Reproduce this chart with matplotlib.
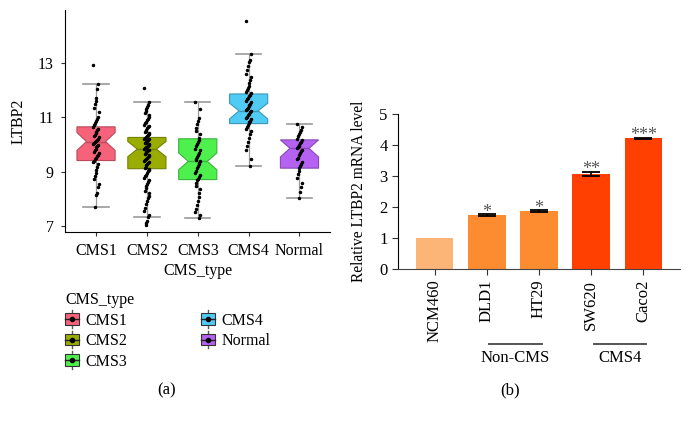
import matplotlib
matplotlib.use("Agg")
import matplotlib.pyplot as plt
import matplotlib.transforms as mtransforms
from matplotlib.legend_handler import HandlerBase
from matplotlib.lines import Line2D
from matplotlib.patches import Patch, Rectangle
import numpy as np

plt.rcParams['font.family'] = ['Liberation Serif', 'DejaVu Serif']

# ---- panel (a): LTBP2 expression by CMS type ----
groups = ["CMS1", "CMS2", "CMS3", "CMS4", "Normal"]
fill_colors = ["#F6627A", "#9AAC00", "#4DF04D", "#4FCBF4", "#B561F2"]
edge_colors = ["#B84A5C", "#738100", "#3AB43A", "#3B98B7", "#8849B5"]

q1 = [9.41, 9.11, 8.71, 10.77, 9.13]
med = [10.11, 9.83, 9.38, 11.24, 9.86]
q3 = [10.65, 10.26, 10.21, 11.86, 10.17]
whislo = [7.70, 7.34, 7.28, 9.22, 8.03]
whishi = [12.24, 11.57, 11.57, 13.33, 10.74]
notch_lo = [9.78, 9.55, 9.07, 10.94, 9.54]
notch_hi = [10.44, 10.11, 9.69, 11.52, 10.17]

cms1_pts = [12.93, 12.21, 12.05, 11.72, 11.61, 11.48, 11.33, 11.21, 11.02, 10.93,
            10.88, 10.79, 10.71, 10.66, 10.58, 10.52, 10.47, 10.41, 10.36, 10.33,
            10.28, 10.22, 10.18, 10.14, 10.11, 10.07, 10.03, 9.98, 9.94, 9.90,
            9.85, 9.79, 9.74, 9.68, 9.62, 9.58, 9.51, 9.46, 9.41, 9.37,
            9.29, 9.18, 9.07, 8.96, 8.84, 8.72, 8.55, 8.43, 8.21, 8.13, 7.70]
cms2_pts = [12.07, 11.57, 11.45, 11.38, 11.30, 11.22, 11.15, 11.08, 11.01, 10.95,
            10.90, 10.84, 10.79, 10.73, 10.69, 10.64, 10.60, 10.55, 10.51, 10.47,
            10.43, 10.39, 10.35, 10.31, 10.28, 10.25, 10.22, 10.19, 10.16, 10.13,
            10.10, 10.07, 10.04, 10.01, 9.98, 9.95, 9.92, 9.89, 9.86, 9.84,
            9.81, 9.78, 9.75, 9.72, 9.69, 9.66, 9.62, 9.59, 9.55, 9.52,
            9.48, 9.44, 9.40, 9.36, 9.32, 9.28, 9.24, 9.19, 9.15, 9.11,
            9.06, 9.01, 8.95, 8.89, 8.83, 8.76, 8.70, 8.62, 8.55, 8.47,
            8.39, 8.30, 8.21, 8.12, 8.02, 7.91, 7.80, 7.68, 7.55, 7.42,
            7.34, 7.20, 7.12, 7.05]
cms3_pts = [11.57, 11.30, 10.98, 10.85, 10.74, 10.60, 10.51, 10.38, 10.25, 10.18,
            10.09, 10.02, 9.93, 9.85, 9.78, 9.70, 9.63, 9.55, 9.48, 9.42,
            9.38, 9.33, 9.27, 9.20, 9.12, 9.03, 8.95, 8.88, 8.80, 8.74,
            8.68, 8.59, 8.47, 8.35, 8.20, 8.05, 7.93, 7.78, 7.62, 7.50,
            7.41, 7.28]
cms4_pts = [14.55, 13.33, 13.10, 13.02, 12.90, 12.75, 12.60, 12.48, 12.37, 12.25,
            12.16, 12.08, 12.00, 11.94, 11.88, 11.83, 11.78, 11.72, 11.66, 11.61,
            11.56, 11.50, 11.45, 11.40, 11.35, 11.30, 11.26, 11.22, 11.18, 11.13,
            11.08, 11.03, 10.98, 10.93, 10.88, 10.83, 10.78, 10.72, 10.65, 10.57,
            10.48, 10.38, 10.25, 10.10, 9.95, 9.78, 9.45, 9.22]
normal_pts = [10.74, 10.66, 10.55, 10.46, 10.38, 10.30, 10.22, 10.15, 10.10, 10.05,
              10.00, 9.95, 9.90, 9.86, 9.81, 9.75, 9.68, 9.60, 9.52, 9.45,
              9.37, 9.28, 9.20, 9.12, 9.02, 8.90, 8.77, 8.60, 8.42, 8.25, 8.03]
points = [cms1_pts, cms2_pts, cms3_pts, cms4_pts, normal_pts]

# ---- panel (b): qPCR ----
cells = ["NCM460", "DLD1", "HT29", "SW620", "Caco2"]
rel_level = [1.02, 1.75, 1.88, 3.08, 4.22]
rel_err = [0.0, 0.02, 0.02, 0.06, 0.02]
stars = ["", "*", "*", "**", "***"]
bar_colors = ["#FDB577", "#FD8C30", "#FD8C30", "#FF4000", "#FF4000"]
group_names = ["Non-CMS", "CMS4"]
group_span = [(1, 2), (3, 4)]


class BoxHandler(HandlerBase):
    def create_artists(self, legend, orig_handle, xdescent, ydescent,
                       width, height, fontsize, trans):
        fc = orig_handle.get_facecolor()
        x0, y0 = -xdescent, -ydescent
        cx, cy = x0 + width / 2, y0 + height / 2
        whisk = Line2D([cx, cx], [y0 - 0.25 * height, y0 + 1.25 * height],
                       color="#555555", lw=1, transform=trans)
        box = Rectangle((x0, y0), width, height, facecolor=fc,
                        edgecolor="#333333", lw=0.8, transform=trans)
        mline = Line2D([x0, x0 + width], [cy, cy], color="#222222", lw=1, transform=trans)
        dot = Line2D([cx], [cy], marker="o", ms=3, color="black", lw=0, transform=trans)
        return [whisk, box, mline, dot]


fig = plt.figure(figsize=(6.9, 4.23), dpi=100)

# left axes
ax1 = fig.add_axes([65 / 690, 1 - 232 / 423, 265 / 690, 222 / 423])
pos = np.arange(1, len(groups) + 1)
stats = []
for i, g in enumerate(groups):
    stats.append(dict(label=g, med=med[i], q1=q1[i], q3=q3[i],
                      whislo=whislo[i], whishi=whishi[i],
                      cilo=notch_lo[i], cihi=notch_hi[i], fliers=[]))
bp = ax1.bxp(stats, positions=pos, widths=0.75, shownotches=True,
             patch_artist=True, showfliers=False,
             whiskerprops=dict(color="#9a9a9a", lw=0.9),
             capprops=dict(color="#9a9a9a", lw=1.2),
             medianprops=dict(lw=1.0), zorder=2)
for i, b in enumerate(bp["boxes"]):
    b.set_facecolor(fill_colors[i])
    b.set_edgecolor(edge_colors[i])
    b.set_linewidth(0.8)
    bp["medians"][i].set_color(edge_colors[i])
for c in bp["caps"]:
    mid = np.mean(c.get_xdata())
    c.set_xdata([mid - 0.25, mid + 0.25])

for i, vals in enumerate(points):
    k = np.arange(len(vals))
    offs = (((k * 37) % 13) - 6) / 6 * 0.05
    ax1.plot(pos[i] + offs, vals, "o", ms=1.5, color="black", zorder=4)

ax1.set_xlim(0.39, 5.6)
ax1.set_ylim(6.78, 14.95)
ax1.set_yticks([7, 9, 11, 13])
ax1.set_xticks(pos)
ax1.set_xticklabels(groups)
ax1.spines["top"].set_visible(False)
ax1.spines["right"].set_visible(False)
ax1.tick_params(labelsize=11.5, length=3, color="#333333", pad=5)
ax1.set_ylabel("LTBP2", fontsize=11.5, labelpad=8)
ax1.set_xlabel("CMS_type", fontsize=11.5, labelpad=3)

handles = [Patch(facecolor=fill_colors[i], edgecolor=edge_colors[i]) for i in range(len(groups))]
fig.legend(handles, groups, title="CMS_type", loc="upper left",
           bbox_to_anchor=(54 / 690, 1 - 281 / 423), ncol=2, frameon=False,
           handler_map={Patch: BoxHandler()}, alignment="left",
           prop={"size": 11.5}, title_fontsize=11.5,
           handlelength=0.85, handleheight=0.75, handletextpad=0.4,
           columnspacing=4.65, labelspacing=0.28, borderpad=0.2)

# right axes
ax2 = fig.add_axes([398 / 690, 1 - 269.3 / 423, 282 / 690, 155 / 423])
xb = np.arange(len(cells))
ax2.bar(xb, rel_level, width=0.72, color=bar_colors, zorder=2)
for i in range(len(cells)):
    if rel_err[i] > 0:
        ax2.errorbar(xb[i], rel_level[i], yerr=rel_err[i], color="black",
                     capsize=6.5, elinewidth=1.2, capthick=1.3, zorder=3)
    if stars[i]:
        ax2.text(xb[i], rel_level[i] + rel_err[i] - 0.2, stars[i], ha="center",
                 va="bottom", fontsize=13, color="#555555")
ax2.set_xlim(-0.70, 4.70)
ax2.set_ylim(0, 5)
ax2.set_yticks(range(6))
ax2.set_xticks(xb)
ax2.set_xticklabels(cells, rotation=90)
ax2.spines["top"].set_visible(False)
ax2.spines["right"].set_visible(False)
ax2.spines["bottom"].set_color("#444444")
ax2.tick_params(labelsize=12, length=4, color="#333333")
ax2.set_ylabel("Relative LTBP2 mRNA level", fontsize=11.2, labelpad=9)

trans = mtransforms.blended_transform_factory(ax2.transData, ax2.transAxes)
for name, (a, b) in zip(group_names, group_span):
    ax2.plot([a + 0.05, b + 0.05], [-0.482, -0.482], color="#555555", lw=1.4,
             transform=trans, clip_on=False)
    ax2.text((a + b) / 2 + 0.05, -0.575, name, transform=trans, ha="center",
             va="center", fontsize=12)

fig.text(167 / 690, 1 - 390 / 423, "(a)", ha="center", va="center", fontsize=12)
fig.text(510 / 690, 1 - 390 / 423, "(b)", ha="center", va="center", fontsize=12)

fig.savefig("out.png", dpi=100)
